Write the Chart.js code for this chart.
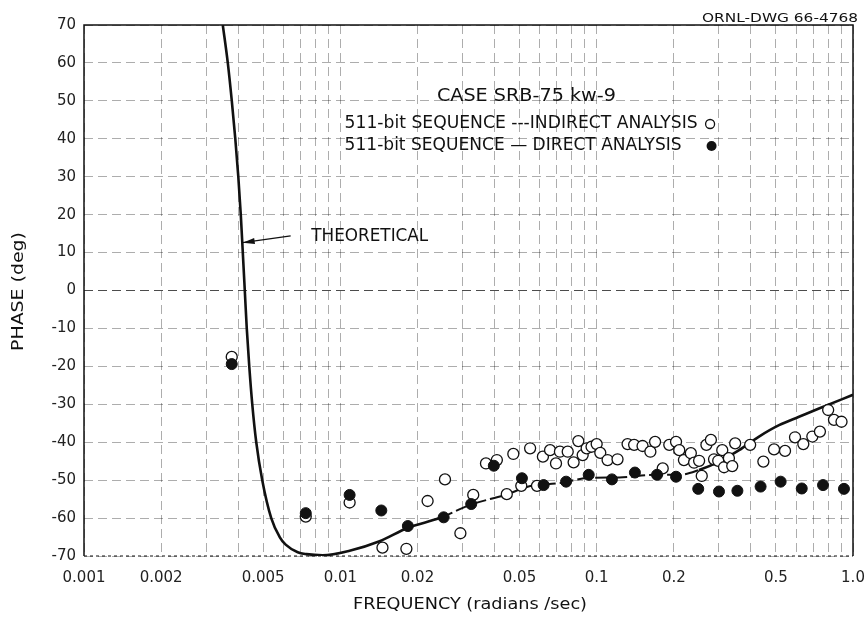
<!DOCTYPE html>
<html>
<head>
<meta charset="utf-8">
<script src="https://cdn.jsdelivr.net/npm/chart.js@4.4.1/dist/chart.umd.min.js"></script>
<style>
  html, body { margin: 0; padding: 0; background: #fff; }
</style>
</head>
<body>
<canvas id="phaseChart" width="866" height="618"></canvas>
<script>
// tick labels on the log frequency axis
const xTickValues = [0.001, 0.002, 0.005, 0.01, 0.02, 0.05, 0.1, 0.2, 0.5, 1.0];
const xTickLabels = ['0.001', '0.002', '0.005', '0.01', '0.02', '0.05', '0.1', '0.2', '0.5', '1.0'];
// log paper grid lines (1..9 per decade)
const xGridValues = [
  0.001, 0.002, 0.003, 0.004, 0.005, 0.006, 0.007, 0.008, 0.009,
  0.01, 0.02, 0.03, 0.04, 0.05, 0.06, 0.07, 0.08, 0.09,
  0.1, 0.2, 0.3, 0.4, 0.5, 0.6, 0.7, 0.8, 0.9, 1.0
];

// theoretical phase curve
const theoryFreq = [0.003479, 0.003639, 0.003772, 0.003893, 0.003999, 0.004089, 0.004164, 0.004239, 0.004315, 0.004413,
  0.004534, 0.004699, 0.004959, 0.005376, 0.0058, 0.00612, 0.00682, 0.00738, 0.00853,
  0.01087, 0.01423, 0.01829, 0.02437, 0.03218, 0.04445, 0.05463, 0.0715, 0.0936, 0.1225,
  0.1676, 0.2098, 0.251, 0.3004, 0.3594, 0.4299, 0.5146, 0.6157, 0.7366, 1.0];
const theoryPhase = [70, 60, 50, 40, 30, 20, 10, 0, -10, -20,
  -30, -40, -50, -60, -65, -67, -69, -69.5, -69.8,
  -68.6, -66.1, -62.6, -60.0, -56.5, -53.8, -51.6, -50.8, -49.4, -49.3,
  -48.6, -48.6, -47.3, -45.1, -42.1, -38.5, -35.5, -33.3, -31.1, -27.5];

// 511-bit sequence, indirect analysis (open circles)
const indirectFreq = [0.00377, 0.00733, 0.01087, 0.0146, 0.0181, 0.0219, 0.0256, 0.0294, 0.033, 0.037,
  0.0408, 0.0446, 0.0473, 0.0508, 0.055, 0.0585, 0.0617, 0.0658, 0.0694, 0.0719,
  0.0771, 0.0813, 0.0848, 0.0882, 0.0914, 0.0955, 0.1, 0.1033, 0.1103, 0.1206,
  0.132, 0.14, 0.151, 0.162, 0.169, 0.181, 0.192, 0.204, 0.21, 0.219,
  0.233, 0.24, 0.251, 0.257, 0.268, 0.279, 0.287, 0.298, 0.309, 0.314,
  0.328, 0.338, 0.347, 0.397, 0.447, 0.492, 0.543, 0.594, 0.64, 0.694,
  0.743, 0.8, 0.843, 0.902];
const indirectPhase = [-17.5, -59.6, -55.9, -67.8, -68.1, -55.5, -49.8, -64.0, -53.9, -45.6,
  -44.7, -53.7, -43.1, -51.5, -41.6, -51.5, -43.8, -42.1, -45.6, -42.5,
  -42.5, -45.3, -39.7, -43.4, -41.6, -41.2, -40.5, -42.8, -44.7, -44.5,
  -40.5, -40.7, -41.0, -42.5, -39.9, -46.9, -40.7, -39.9, -42.1, -44.7,
  -42.9, -45.4, -44.9, -48.9, -40.7, -39.4, -44.5, -44.9, -42.1, -46.6,
  -44.2, -46.3, -40.3, -40.7, -45.1, -41.9, -42.3, -38.7, -40.5, -38.5,
  -37.2, -31.5, -34.1, -34.6];

// 511-bit sequence, direct analysis (filled circles)
const directFreq = [0.00377, 0.00733, 0.01087, 0.01445, 0.01834, 0.0253, 0.0324, 0.0397, 0.0511, 0.0621,
  0.076, 0.0931, 0.1147, 0.141, 0.172, 0.204, 0.249, 0.3, 0.354, 0.436,
  0.522, 0.631, 0.764, 0.922];
const directPhase = [-19.4, -58.7, -53.9, -58.0, -62.1, -59.8, -56.3, -46.2, -49.5, -51.3,
  -50.4, -48.6, -49.8, -48.0, -48.6, -49.1, -52.3, -53.0, -52.8, -51.7,
  -50.4, -52.2, -51.3, -52.3];

const toPoints = (xs, ys) => xs.map((x, i) => ({ x: x, y: ys[i] }));

const INK = '#111';
const FONT = '"DejaVu Sans", "Liberation Sans", sans-serif';

// draw text squeezed/stretched to a given width (old lettering guide look)
function fitText(ctx, text, x, y, width, align) {
  const m = ctx.measureText(text).width;
  const s = width / m;
  ctx.save();
  ctx.translate(x, y);
  ctx.scale(s, 1);
  ctx.fillText(text, align === 'center' ? -m / 2 : (align === 'right' ? -m : 0), 0);
  ctx.restore();
}

const annotations = {
  id: 'annotations',
  afterDraw(chart) {
    const ctx = chart.ctx;
    const xs = chart.scales.x, ys = chart.scales.y;
    const a = chart.chartArea;
    const px = v => xs.getPixelForValue(v);
    const py = v => ys.getPixelForValue(v);

    ctx.save();
    // frame
    ctx.strokeStyle = INK;
    ctx.lineWidth = 1.5;
    ctx.beginPath();
    ctx.moveTo(a.left, a.bottom);
    ctx.lineTo(a.left, a.top);
    ctx.lineTo(a.right, a.top);
    ctx.lineTo(a.right, a.bottom);
    ctx.stroke();
    ctx.setLineDash([3, 3]);
    ctx.lineWidth = 1;
    ctx.beginPath();
    ctx.moveTo(a.left, a.bottom);
    ctx.lineTo(a.right, a.bottom);
    ctx.stroke();
    ctx.setLineDash([]);

    ctx.fillStyle = INK;
    ctx.textBaseline = 'middle';

    // drawing number
    ctx.font = '12px ' + FONT;
    fitText(ctx, 'ORNL-DWG 66-4768', chart.width - 8, 19, 156, 'right');

    // case + legend block
    ctx.font = '17px ' + FONT;
    fitText(ctx, 'CASE SRB-75 kw-9', px(0.0532), py(51.0), 179, 'center');
    fitText(ctx, '511-bit SEQUENCE ---INDIRECT ANALYSIS', px(0.01039), py(43.9), 353, 'left');
    fitText(ctx, '511-bit SEQUENCE \u2014 DIRECT ANALYSIS', px(0.01039), py(38.1), 337, 'left');

    ctx.lineWidth = 1.3;
    ctx.beginPath();
    ctx.arc(px(0.277), py(43.9), 4.5, 0, Math.PI * 2);
    ctx.stroke();
    ctx.beginPath();
    ctx.arc(px(0.2807), py(38.1), 5, 0, Math.PI * 2);
    ctx.fill();

    // THEORETICAL label and arrow
    fitText(ctx, 'THEORETICAL', px(0.0077), py(14.2), 117, 'left');
    const tx = px(0.0064), tyy = py(14.4);
    const hx = px(0.00416), hy = py(12.6);
    ctx.lineWidth = 1.2;
    ctx.beginPath();
    ctx.moveTo(tx, tyy);
    ctx.lineTo(hx, hy);
    ctx.stroke();
    const ang = Math.atan2(hy - tyy, hx - tx);
    ctx.beginPath();
    ctx.moveTo(hx, hy);
    ctx.lineTo(hx - 12 * Math.cos(ang) + 3 * Math.sin(ang), hy - 12 * Math.sin(ang) - 3 * Math.cos(ang));
    ctx.lineTo(hx - 12 * Math.cos(ang) - 3 * Math.sin(ang), hy - 12 * Math.sin(ang) + 3 * Math.cos(ang));
    ctx.closePath();
    ctx.fill();

    // axis titles
    ctx.font = '16px ' + FONT;
    fitText(ctx, 'FREQUENCY (radians /sec)', 470, 605, 234, 'center');
    ctx.save();
    ctx.translate(19, (a.top + a.bottom) / 2 + 1);
    ctx.rotate(-Math.PI / 2);
    fitText(ctx, 'PHASE (deg)', 0, 0, 119, 'center');
    ctx.restore();

    ctx.restore();
  }
};

const tickFont = { family: FONT, size: 15 };

new Chart(document.getElementById('phaseChart'), {
  type: 'scatter',
  data: {
    datasets: [
      {
        label: 'DIRECT ANALYSIS',
        data: toPoints(directFreq, directPhase),
        pointStyle: 'circle',
        pointRadius: 5.5,
        backgroundColor: INK,
        borderColor: INK,
        borderWidth: 1
      },
      {
        label: 'INDIRECT ANALYSIS',
        data: toPoints(indirectFreq, indirectPhase),
        pointStyle: 'circle',
        pointRadius: 5.5,
        backgroundColor: '#fff',
        borderColor: INK,
        borderWidth: 1.3
      },
      {
        label: 'THEORETICAL',
        type: 'line',
        data: toPoints(theoryFreq, theoryPhase),
        borderColor: INK,
        borderWidth: 2.6,
        pointRadius: 0,
        cubicInterpolationMode: 'monotone',
        segment: {
          borderDash: c => (c.p0.parsed.x >= 0.02 && c.p1.parsed.x <= 0.26) ? [14, 4] : undefined,
          borderWidth: c => (c.p0.parsed.x >= 0.02 && c.p1.parsed.x <= 0.26) ? 2 : undefined
        }
      }
    ]
  },
  options: {
    responsive: false,
    animation: false,
    layout: { padding: { left: 0, right: 13, top: 25, bottom: 0 } },
    plugins: {
      legend: { display: false },
      tooltip: { enabled: false }
    },
    scales: {
      x: {
        type: 'logarithmic',
        min: 0.001,
        max: 1,
        afterBuildTicks: axis => { axis.ticks = xGridValues.map(v => ({ value: v })); },
        afterFit: axis => { axis.height = 62; axis.paddingRight = 0; axis.paddingLeft = 0; },
        grid: { drawTicks: false, color: 'rgba(0,0,0,0.32)', lineWidth: 1 },
        border: { display: false, dash: [9, 5] },
        ticks: {
          autoSkip: false,
          maxRotation: 0,
          padding: 13,
          font: tickFont,
          color: '#222',
          callback: value => {
            const i = xTickValues.findIndex(t => Math.abs(t - value) / t < 1e-6);
            return i >= 0 ? xTickLabels[i] : '';
          }
        }
      },
      y: {
        min: -70,
        max: 70,
        afterFit: axis => { axis.width = 84; axis.paddingTop = 0; axis.paddingBottom = 0; },
        grid: {
          drawTicks: false,
          color: c => c.tick && c.tick.value === 0 ? 'rgba(0,0,0,0.7)' : 'rgba(0,0,0,0.32)',
          lineWidth: 1
        },
        border: { display: false, dash: [9, 5] },
        ticks: {
          stepSize: 10,
          padding: 8,
          font: tickFont,
          color: '#222',
          callback: value => String(value)
        }
      }
    }
  },
  plugins: [annotations]
});
</script>
</body>
</html>
